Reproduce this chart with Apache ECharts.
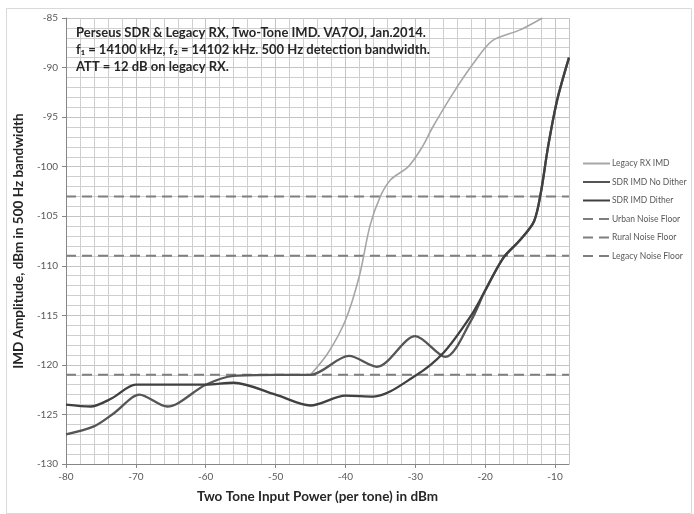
<!DOCTYPE html>
<html>
<head>
<meta charset="utf-8">
<script src="https://cdn.jsdelivr.net/npm/echarts@6/dist/echarts.min.js"></script>
<style>
  html, body { margin: 0; padding: 0; background: #fff; }
  #chart { width: 694px; height: 514px; }
</style>
</head>
<body>
<div id="chart"></div>
<script>
// two-tone IMD measurements, x = input power per tone (dBm), y = IMD (dBm)
const legacyX = [-45, -42.5, -40, -38, -36.5, -35, -33.5, -31, -29, -27.5, -24.6, -21.7, -19, -15, -11.8]
const legacyY = [-121, -118.8, -115.5, -111, -106, -103, -101.3, -100, -98, -96, -92.6, -89.6, -87.3, -86.2, -85]

const noDitherX = [-80, -76, -73, -69.5, -65.5, -60, -56, -50, -45, -39.5, -35.5, -30, -25.7, -22, -20, -17.4, -15, -13, -12, -11, -9.7, -8]
const noDitherY = [-127, -126.2, -124.8, -123, -124.2, -122, -121.1, -121, -121, -119.1, -120.2, -117.1, -119.2, -115.5, -112.5, -109.2, -107.4, -105.5, -102.5, -98, -93.3, -89]

const ditherX = [-80, -76.5, -73.5, -70, -65, -60, -56, -50, -45, -40, -36, -30, -26, -22, -20, -17.4, -15, -13, -12, -11, -9.7, -8]
const ditherY = [-124, -124.2, -123.4, -122, -122, -122, -121.8, -123, -124.1, -123.1, -123.2, -121.1, -118.8, -115, -112.5, -109.2, -107.4, -105.5, -102.5, -98, -93.3, -89]

const floorNames = ['Urban Noise Floor', 'Rural Noise Floor', 'Legacy Noise Floor']
const floorLevels = [-103, -109, -121]
const floorSpan = [-80, -8]

const titleLines = [
  'Perseus SDR & Legacy RX, Two-Tone IMD. VA7OJ, Jan.2014.',
  'f\u2081 = 14100 kHz, f\u2082 = 14102 kHz. 500 Hz detection bandwidth.',
  'ATT = 12 dB on legacy RX.'
]

const zip = (xs, ys) => xs.map((x, i) => [x, ys[i]])

const myChart = echarts.init(document.getElementById('chart'))

const curve = (name, xs, ys, color, width) => ({
  name,
  type: 'line',
  data: zip(xs, ys),
  symbol: 'none',
  smooth: 0.3,
  lineStyle: { color, width },
  itemStyle: { color },
  z: 3
})

const floors = floorNames.map((name, i) => ({
  name,
  type: 'line',
  data: floorSpan.map(x => [x, floorLevels[i]]),
  symbol: 'none',
  lineStyle: { color: '#7f7f7f', width: 2, type: [10, 6] },
  itemStyle: { color: '#7f7f7f' },
  z: 2
}))

const option = {
  backgroundColor: '#fff',
  animation: false,
  textStyle: { fontFamily: 'Lato' },
  grid: { left: 66, right: 125, top: 18, bottom: 50 },
  legend: {
    orient: 'vertical',
    left: 582,
    top: 159,
    padding: 0,
    itemWidth: 27,
    itemHeight: 9,
    itemGap: 9.5,
    itemStyle: { opacity: 0 },
    textStyle: { fontSize: 8.5, color: '#595959', fontFamily: 'Lato', padding: [0, 0, 0, -3] },
    data: ['Legacy RX IMD', 'SDR IMD No Dither', 'SDR IMD Dither'].concat(floorNames)
  },
  xAxis: {
    type: 'value',
    min: -80,
    max: -8,
    interval: 10,
    name: 'Two Tone Input Power (per tone) in dBm',
    nameLocation: 'middle',
    nameGap: 26,
    nameTextStyle: { fontSize: 13.5, fontWeight: 'bold', color: '#262626' },
    axisLine: { show: true, lineStyle: { color: '#868686' } },
    axisTick: { show: true, length: 4, lineStyle: { color: '#868686' } },
    axisLabel: { fontSize: 10, color: '#595959', showMaxLabel: false, margin: 8 },
    splitLine: { show: true, lineStyle: { color: '#c4c4c4' } },
    minorTick: { show: false, splitNumber: 5 },
    minorSplitLine: { show: true, lineStyle: { color: '#cfcfcf' } }
  },
  yAxis: {
    type: 'value',
    min: -130,
    max: -85,
    interval: 5,
    name: 'IMD Amplitude, dBm in 500 Hz bandwidth',
    nameLocation: 'middle',
    nameGap: 38,
    nameTextStyle: { fontSize: 13.5, fontWeight: 'bold', color: '#262626' },
    axisLine: { show: true, lineStyle: { color: '#868686' } },
    axisTick: { show: true, length: 4, lineStyle: { color: '#868686' } },
    axisLabel: { fontSize: 10, color: '#595959', margin: 8 },
    splitLine: { show: true, lineStyle: { color: '#c4c4c4' } },
    minorTick: { show: false, splitNumber: 5 },
    minorSplitLine: { show: true, lineStyle: { color: '#cfcfcf' } }
  },
  graphic: [
    {
      type: 'rect',
      left: 4,
      top: 6,
      shape: { width: 685, height: 505 },
      style: { fill: 'none', stroke: '#d9d9d9', lineWidth: 1 },
      silent: true
    },
    {
      type: 'text',
      left: 76,
      top: 24,
      style: {
        text: titleLines.join('\n'),
        font: 'bold 13px Lato',
        lineHeight: 17,
        fill: '#262626'
      },
      z: 10
    }
  ],
  series: [
    curve('Legacy RX IMD', legacyX, legacyY, '#a6a6a6', 1.6),
    curve('SDR IMD No Dither', noDitherX, noDitherY, '#555555', 2.3),
    curve('SDR IMD Dither', ditherX, ditherY, '#404040', 2.3)
  ].concat(floors)
}

myChart.setOption(option, true)
</script>
</body>
</html>
